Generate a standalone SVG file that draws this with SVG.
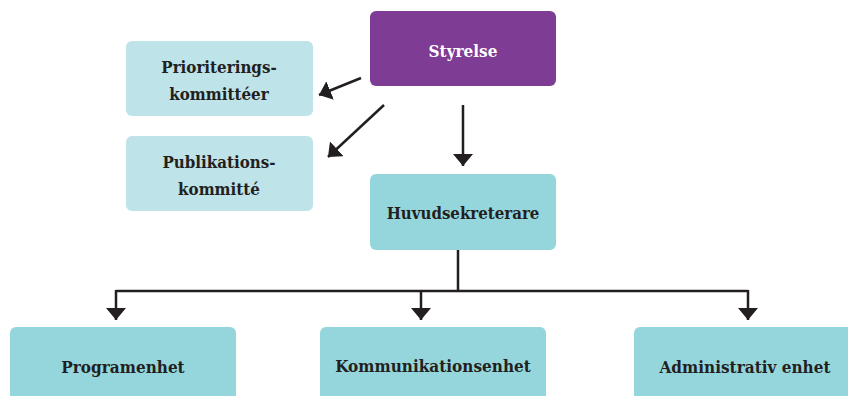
<svg xmlns="http://www.w3.org/2000/svg" width="848" height="396" viewBox="0 0 848 396">
<defs>
<style>
.t{font-family:"DejaVu Serif","Liberation Serif",serif;font-weight:bold;font-stretch:condensed;fill:#231f20;text-anchor:middle}
.w{fill:#ffffff}
.c{stroke:#231f20;stroke-width:2.5;fill:none}
</style>
<marker id="ah" viewBox="0 0 12 20" refX="12" refY="10" markerWidth="12" markerHeight="20" markerUnits="userSpaceOnUse" orient="auto">
<path d="M0,0 L12,10 L0,20 Z" fill="#231f20"/>
</marker>
</defs>
<rect width="848" height="396" fill="#ffffff"/>
<g id="styrelse"><rect x="370" y="11" width="186" height="75" rx="6" fill="#7e3c94"/><text class="t w" x="463" y="57" font-size="17">Styrelse</text></g>
<g id="prioriterings"><rect x="126" y="41" width="187" height="75" rx="6" fill="#bee3e8"/><text class="t" x="219" y="73" font-size="16.8">Prioriterings-</text><text class="t" x="219" y="100" font-size="16.8">kommittéer</text></g>
<g id="publikations"><rect x="126" y="136" width="187" height="75" rx="6" fill="#bee3e8"/><text class="t" x="219" y="168" font-size="16.8">Publikations-</text><text class="t" x="219" y="195" font-size="16.8">kommitté</text></g>
<g id="huvud"><rect x="370" y="174" width="186" height="76" rx="6" fill="#95d6dd"/><text class="t" x="463" y="219" font-size="16.7">Huvudsekreterare</text></g>
<g id="program"><rect x="10" y="327" width="226" height="80" rx="6" fill="#95d6dd"/><text class="t" x="123" y="373" font-size="17">Programenhet</text></g>
<g id="komm"><rect x="320" y="327" width="226" height="80" rx="6" fill="#95d6dd"/><text class="t" x="433" y="372" font-size="17">Kommunikationsenhet</text></g>
<g id="admin"><rect x="634" y="327" width="226" height="80" rx="6" fill="#95d6dd"/><text class="t" x="745" y="373" font-size="17">Administrativ enhet</text></g>
<g id="connectors">
<path class="c" d="M361,78 L319,95" marker-end="url(#ah)"/>
<path class="c" d="M384,105 L328,157" marker-end="url(#ah)"/>
<path class="c" d="M463,105 L463,166" marker-end="url(#ah)"/>
<path class="c" d="M458,250 L458,291 M116,291 L748,291"/>
<path class="c" d="M116,290 L116,320" marker-end="url(#ah)"/>
<path class="c" d="M421,290 L421,320" marker-end="url(#ah)"/>
<path class="c" d="M748,290 L748,320" marker-end="url(#ah)"/>
</g>
</svg>
